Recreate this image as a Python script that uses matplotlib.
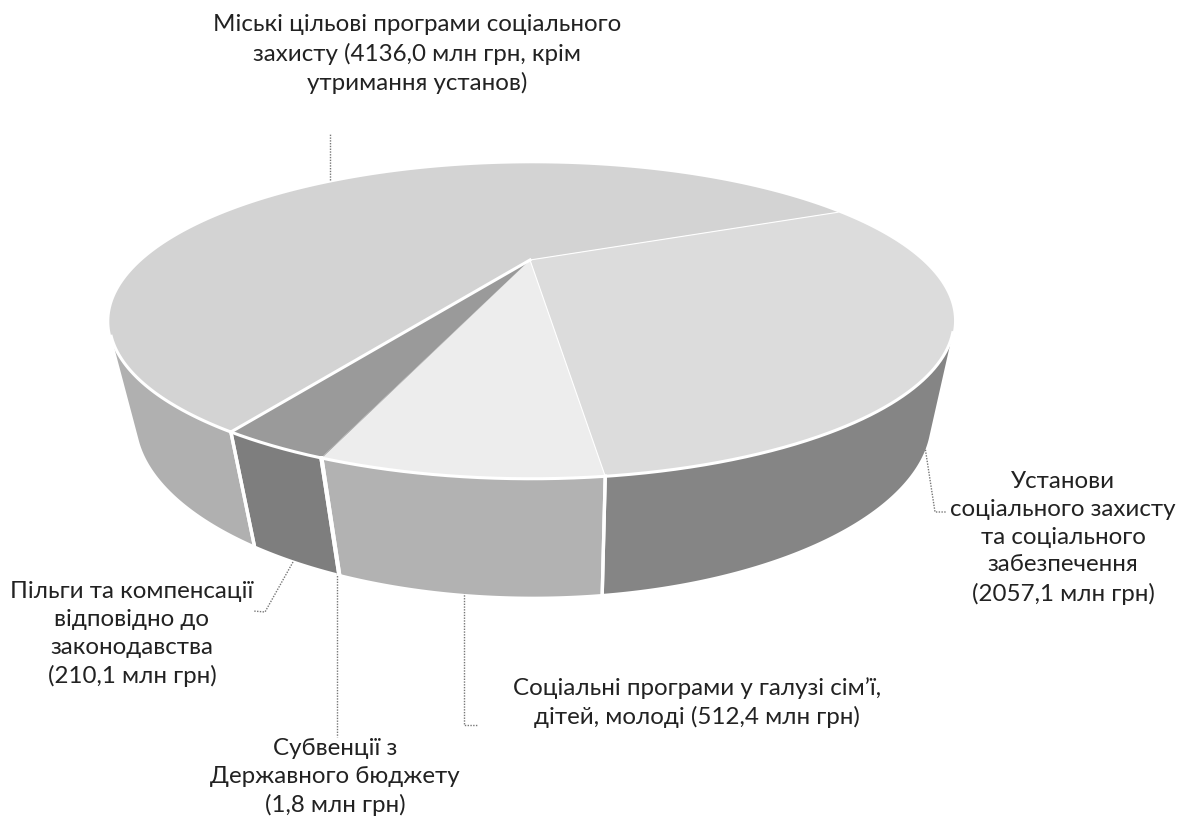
import numpy as np
import matplotlib
matplotlib.use("Agg")
import matplotlib.pyplot as plt
from matplotlib.patches import Polygon
from matplotlib.path import Path

# values in mln UAH, in drawing order starting from the back right edge
names = [
    "Установи\nсоціального захисту\nта соціального\nзабезпечення\n(2057,1 млн грн)",
    "Соціальні програми у галузі сім’ї,\nдітей, молоді (512,4 млн грн)",
    "Субвенції з\nДержавного бюджету\n(1,8 млн грн)",
    "Пільги та компенсації\nвідповідно до\nзаконодавства\n(210,1 млн грн)",
    "Міські цільові програми соціального\nзахисту (4136,0 млн грн, крім\nутримання установ)",
]
values = [2057.1, 512.4, 1.8, 210.1, 4136.0]
top_colors = ["#dcdcdc", "#ededed", "#9a9a9a", "#9a9a9a", "#d3d3d3"]
side_colors = ["#858585", "#b2b2b2", "#7e7e7e", "#7e7e7e", "#b0b0b0"]

label_xy = [(1063, 538), (697, 703), (335, 777), (132, 634), (417, 54)]
leaders = [
    [(925, 447), (935, 512), (947, 512)],
    [(464, 592), (464, 725), (477, 725)],
    [(337, 570), (337, 737)],
    [(293, 562), (265, 612), (253, 611)],
    [(330, 180), (330, 133)],
]

# perspective of the disc: centre and slice edges as seen on the page
apex = (530, 260)
rim_anchors = [(838, 212), (605, 477), (322, 457), (230, 432)]
vanish = np.array([565.0, 2050.0])
# slice edge -> white line width on the top face
edge_lw = [0.8, 0.8, 0, 0, 2.2]

edges = np.concatenate([[0], np.cumsum(values)]) / np.sum(values) * 2 * np.pi
src = [(0.0, 0.0)] + [(np.cos(a), np.sin(a)) for a in edges[[0, 1, 3, 4]]]
dst = [apex] + rim_anchors
A, b = [], []
for (u, v), (x, y) in zip(src, dst):
    A.append([u, v, 1, 0, 0, 0, -u * x, -v * x])
    A.append([0, 0, 0, u, v, 1, -u * y, -v * y])
    b += [x, y]
h = np.linalg.lstsq(np.array(A), np.array(b), rcond=None)[0]
H = np.append(h, 1).reshape(3, 3)


def project(angles):
    p = np.column_stack([np.cos(angles), np.sin(angles), np.ones(len(angles))]) @ H.T
    return p[:, :2] / p[:, 2:]


def lower(pts, k=1.0):
    # walls get taller towards the viewer and lean to the vanishing point
    wall = 105 + 0.1 * (pts[:, 1] - 350)
    frac = (k * wall / (vanish[1] - pts[:, 1]))[:, None]
    return pts + frac * (vanish - pts)


all_angles = np.linspace(0, 2 * np.pi, 2881)
outline = Path(project(all_angles))

fig = plt.figure(figsize=(11.94, 8.23), dpi=100)
ax = fig.add_axes([0, 0, 1, 1])
ax.set_xlim(0, 1194)
ax.set_ylim(823, 0)
ax.axis("off")

# side walls, only where a small step down the wall leaves the disc
for i in range(len(values)):
    t = np.linspace(edges[i], edges[i + 1], 600)
    up = project(t)
    vis = ~outline.contains_points(lower(up, 0.03))
    if vis.sum() < 2:
        continue
    poly = np.vstack([up[vis], lower(up[vis])[::-1]])
    ax.add_patch(Polygon(poly, facecolor=side_colors[i], edgecolor="none", zorder=2))
    for j in (0, -1):
        if vis[j]:
            seam = np.vstack([up[j], lower(up[[j]])])
            ax.plot(seam[:, 0], seam[:, 1], color="white", lw=2.4, zorder=4)
    ax.plot(up[vis][:, 0], up[vis][:, 1], color="white", lw=2.2, zorder=5)

# top face
for i in range(len(values)):
    t = np.linspace(edges[i], edges[i + 1], 300)
    poly = np.vstack([[apex], project(t)])
    ax.add_patch(Polygon(poly, facecolor=top_colors[i], edgecolor="none", zorder=3))
for i in range(len(values)):
    if edge_lw[i] > 0:
        tip = project(edges[[i]])[0]
        ax.plot([apex[0], tip[0]], [apex[1], tip[1]], color="white", lw=edge_lw[i], zorder=4)

for txt, (x, y) in zip(names, label_xy):
    ax.text(x, y, txt, ha="center", va="center", fontsize=17.4, color="#222222",
            family=["Lato", "Open Sans"], linespacing=1.39, zorder=6)

for line in leaders:
    xs, ys = zip(*line)
    ax.plot(xs, ys, color="#777777", lw=1, ls=(0, (1, 1)), zorder=1)

fig.savefig("out.png", dpi=100)
